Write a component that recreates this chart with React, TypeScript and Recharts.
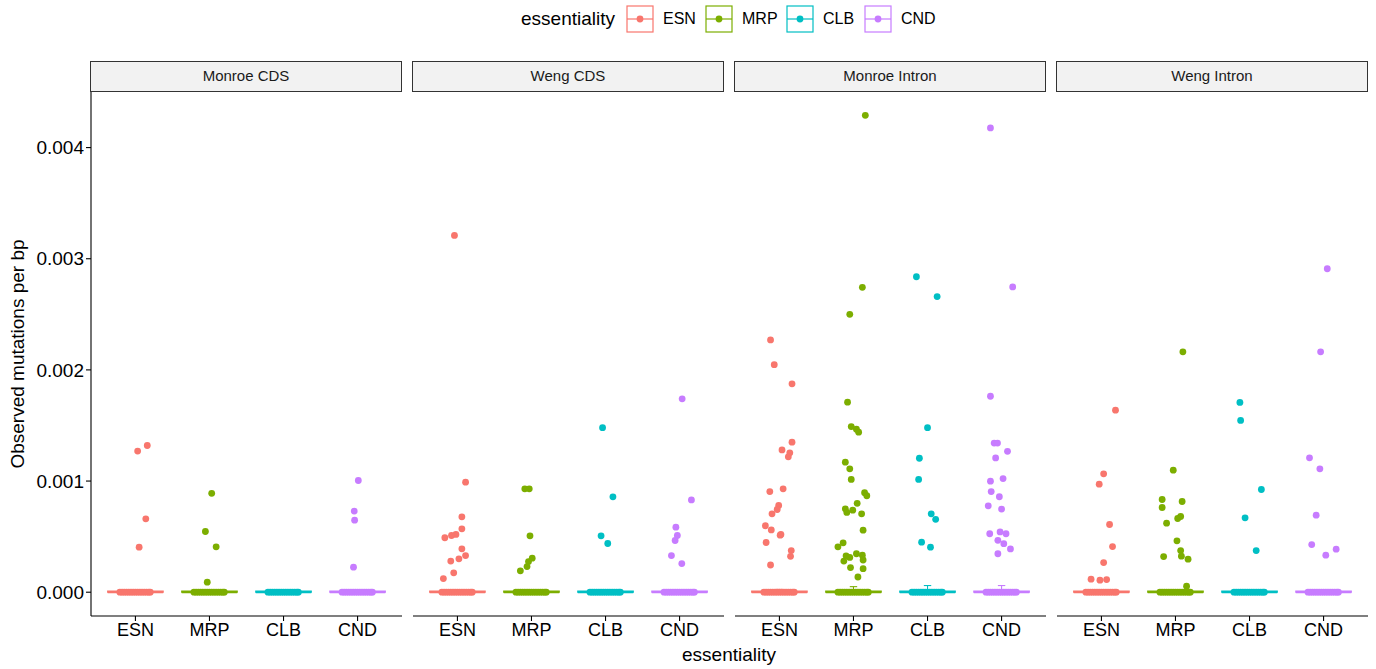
import React from 'react';
import { ComposedChart, Scatter, XAxis, YAxis, ReferenceArea, ReferenceLine } from 'recharts';

const CATEGORIES = ['ESN', 'MRP', 'CLB', 'CND'];
const COLORS = ['#F8766D', '#7CAE00', '#00BFC4', '#C77CFF'];
const PANELS = ['Monroe CDS', 'Weng CDS', 'Monroe Intron', 'Weng Intron'];
const Y_TICKS = [0, 0.001, 0.002, 0.003, 0.004];
const Y_DOMAIN = [-0.000214, 0.0045];

// jitter offsets of the many zero-valued points (band at 0)
const zeroJitter = [-0.21, -0.18, -0.15, -0.12, -0.09, -0.06, -0.03, 0.0, 0.03, 0.06, 0.09, 0.12, 0.15, 0.18, 0.2];

// [jitter, value] pairs — Monroe CDS
const monroeCdsEsn = [[0.03, 0.00127], [0.16, 0.00132], [0.14, 0.00066], [0.05, 0.000405]];
const monroeCdsMrp = [[0.03, 0.00089], [-0.055, 0.000546], [0.09, 0.000408], [-0.03, 0.00009]];
const monroeCdsClb: number[][] = [];
const monroeCdsCnd = [[0.01, 0.001005], [-0.045, 0.00073], [-0.04, 0.000648], [-0.055, 0.000225]];

// Weng CDS
const wengCdsEsn = [[-0.04, 0.00321], [0.11, 0.00099], [0.06, 0.000678], [0.06, 0.00057], [-0.02, 0.00052], [-0.08, 0.00051], [-0.17, 0.00049], [0.06, 0.00039], [0.11, 0.00033], [0.02, 0.0003], [-0.09, 0.00028], [-0.05, 0.000174], [-0.19, 0.000123]];
const wengCdsMrp = [[-0.09, 0.00093], [-0.03, 0.00093], [-0.02, 0.000507], [0.01, 0.000306], [-0.04, 0.000276], [-0.06, 0.000231], [-0.15, 0.000192]];
const wengCdsClb = [[-0.04, 0.00148], [0.1, 0.000858], [-0.06, 0.000507], [0.03, 0.000438]];
const wengCdsCnd = [[0.035, 0.00174], [0.16, 0.00083], [-0.05, 0.000585], [-0.03, 0.00051], [-0.06, 0.000465], [-0.11, 0.00033], [0.03, 0.000258]];

// Monroe Intron
const monroeIntronEsn = [[-0.12, 0.00227], [-0.07, 0.002047], [0.17, 0.001875], [0.17, 0.00135], [0.035, 0.00128], [0.14, 0.001254], [0.12, 0.001218], [-0.13, 0.000905], [0.05, 0.00093], [-0.01, 0.00078], [-0.03, 0.000744], [-0.1, 0.000705], [-0.19, 0.000598], [-0.11, 0.00056], [0.02, 0.00052], [0.01, 0.000513], [-0.18, 0.000447], [0.16, 0.000375], [0.15, 0.000323], [-0.12, 0.000245]];
const monroeIntronMrp = [[0.16, 0.00429], [0.12, 0.002743], [-0.05, 0.0025], [-0.08, 0.00171], [-0.03, 0.00149], [0.04, 0.001466], [0.07, 0.00144], [-0.11, 0.00117], [-0.05, 0.00111], [-0.03, 0.001015], [0.15, 0.000895], [0.18, 0.000868], [0.05, 0.0008], [-0.11, 0.00075], [-0.09, 0.000718], [-0.01, 0.000738], [0.11, 0.000705], [0.13, 0.000558], [-0.14, 0.000444], [-0.21, 0.000408], [-0.1, 0.000327], [0.04, 0.000346], [0.12, 0.000333], [-0.05, 0.000313], [-0.13, 0.00028], [0.13, 0.00029], [-0.04, 0.000222], [0.13, 0.000212], [0.06, 0.000137]];
const monroeIntronClb = [[-0.15, 0.002838], [0.13, 0.00266], [0.0, 0.00148], [-0.11, 0.001205], [-0.12, 0.001015], [0.05, 0.000705], [0.11, 0.000656], [-0.08, 0.00045], [0.04, 0.000405]];
const monroeIntronCnd = [[-0.15, 0.004177], [0.15, 0.002746], [-0.15, 0.001763], [-0.1, 0.001342], [-0.055, 0.001342], [0.08, 0.001267], [-0.08, 0.001208], [-0.15, 0.000999], [0.02, 0.001022], [-0.14, 0.000905], [-0.03, 0.000859], [-0.18, 0.000777], [0.0, 0.000748], [-0.16, 0.000526], [-0.02, 0.000542], [0.06, 0.000526], [-0.05, 0.000467], [0.03, 0.000437], [0.12, 0.000389], [-0.05, 0.000346]];

// Weng Intron
const wengIntronEsn = [[0.19, 0.001638], [0.03, 0.001065], [-0.03, 0.000972], [0.11, 0.000609], [0.15, 0.000411], [0.03, 0.000267], [-0.14, 0.000117], [-0.02, 0.000108], [0.07, 0.000114]];
const wengIntronMrp = [[0.1, 0.002163], [-0.03, 0.001098], [-0.18, 0.000834], [0.09, 0.000816], [-0.18, 0.000762], [0.07, 0.000681], [0.03, 0.000663], [-0.12, 0.000621], [0.02, 0.000462], [0.07, 0.000375], [-0.16, 0.000321], [0.08, 0.000324], [0.17, 0.000297], [0.15, 0.000054]];
const wengIntronClb = [[-0.13, 0.001707], [-0.12, 0.001545], [0.16, 0.000924], [-0.06, 0.000669], [0.09, 0.000375]];
const wengIntronCnd = [[0.05, 0.00291], [-0.04, 0.002163], [-0.19, 0.001209], [-0.05, 0.00111], [-0.1, 0.000693], [-0.16, 0.000429], [0.17, 0.000387], [0.03, 0.000333]];

// box stats per category: [lower hinge, median, upper hinge, upper whisker]
const monroeCdsBoxes = [[0, 0, 0.00001, 0.00001], [0, 0, 0.00001, 0.00001], [0, 0, 0.00001, 0.00001], [0, 0, 0.00001, 0.00001]];
const wengCdsBoxes = [[0, 0, 0.00001, 0.00001], [0, 0, 0.00001, 0.00001], [0, 0, 0.00001, 0.00001], [0, 0, 0.00001, 0.00001]];
const monroeIntronBoxes = [[0, 0, 0.00001, 0.000025], [0, 0, 0.00001, 0.00005], [0, 0, 0.00001, 0.00006], [0, 0, 0.00001, 0.00006]];
const wengIntronBoxes = [[0, 0, 0.00001, 0.00001], [0, 0, 0.00001, 0.00001], [0, 0, 0.00001, 0.00001], [0, 0, 0.00001, 0.00001]];

const PANEL_POINTS = [
  [monroeCdsEsn, monroeCdsMrp, monroeCdsClb, monroeCdsCnd],
  [wengCdsEsn, wengCdsMrp, wengCdsClb, wengCdsCnd],
  [monroeIntronEsn, monroeIntronMrp, monroeIntronClb, monroeIntronCnd],
  [wengIntronEsn, wengIntronMrp, wengIntronClb, wengIntronCnd],
];
const PANEL_BOXES = [monroeCdsBoxes, wengCdsBoxes, monroeIntronBoxes, wengIntronBoxes];

const FONT = '"Liberation Sans", Arial, Helvetica, sans-serif';
const PANEL_LEFT = [91, 413, 735, 1057];
const PANEL_W = 311;
const PLOT_TOP = 92;
const PLOT_BOTTOM = 616;
const H = 669;

function Dot(props: any) {
  const { cx, cy, fill } = props;
  if (cx == null || cy == null) return null;
  return <circle cx={cx} cy={cy} r={3.4} fill={fill} />;
}

function Panel({ idx }: { idx: number }) {
  const first = idx === 0;
  const yAxisW = 91;
  const left = first ? 0 : PANEL_LEFT[idx];
  const width = first ? PANEL_LEFT[0] + PANEL_W : PANEL_W;
  const xAxisH = 30;
  const series = CATEGORIES.map((cat, ci) => {
    const pts = PANEL_POINTS[idx][ci].map(([j, v]) => ({ x: ci + 1 + j, y: v }));
    const zeros = zeroJitter.map((j) => ({ x: ci + 1 + j, y: 0 }));
    return zeros.concat(pts);
  });
  const boxes = PANEL_BOXES[idx];
  return (
    <div style={{ position: 'absolute', left, top: 0 }}>
      <ComposedChart
        width={width}
        height={H}
        margin={{ top: PLOT_TOP, right: 0, left: 0, bottom: H - PLOT_BOTTOM - xAxisH }}
      >
        <XAxis
          type="number"
          dataKey="x"
          domain={[0.4, 4.6]}
          ticks={[1, 2, 3, 4]}
          interval={0}
          allowDataOverflow
          tickFormatter={(v: number) => CATEGORIES[v - 1]}
          height={xAxisH}
          tickSize={5}
          tickMargin={2}
          axisLine={{ stroke: '#000', strokeWidth: 1.1 }}
          tickLine={{ stroke: '#000', strokeWidth: 1.1 }}
          tick={{ fill: '#000', fontSize: 18, fontFamily: FONT }}
        />
        <YAxis
          type="number"
          dataKey="y"
          domain={Y_DOMAIN}
          ticks={Y_TICKS}
          allowDataOverflow
          hide={!first}
          width={yAxisW}
          tickFormatter={(v: number) => v.toFixed(3)}
          tickSize={5}
          tickMargin={2}
          axisLine={{ stroke: '#000', strokeWidth: 1.1 }}
          tickLine={{ stroke: '#000', strokeWidth: 1.1 }}
          tick={{ fill: '#000', fontSize: 19, fontFamily: FONT }}
        />
        {boxes.map(([lo, med, up, wh], ci) => (
          <ReferenceArea
            key={'box' + ci}
            x1={ci + 1 - 0.375}
            x2={ci + 1 + 0.375}
            y1={lo}
            y2={up}
            stroke={COLORS[ci]}
            strokeWidth={1.1}
            fill="none"
            fillOpacity={0}
            strokeOpacity={1}
            ifOverflow="visible"
          />
        ))}
        {boxes.map(([lo, med, up, wh], ci) => (
          <ReferenceLine
            key={'med' + ci}
            segment={[{ x: ci + 1 - 0.375, y: med }, { x: ci + 1 + 0.375, y: med }]}
            stroke={COLORS[ci]}
            strokeWidth={2.2}
            ifOverflow="visible"
          />
        ))}
        {boxes.map(([lo, med, up, wh], ci) =>
          wh > up ? (
            <ReferenceLine
              key={'wh' + ci}
              segment={[{ x: ci + 1, y: up }, { x: ci + 1, y: wh }]}
              stroke={COLORS[ci]}
              strokeWidth={1.1}
              ifOverflow="visible"
            />
          ) : null
        )}
        {boxes.map(([lo, med, up, wh], ci) =>
          wh > up ? (
            <ReferenceLine
              key={'cap' + ci}
              segment={[{ x: ci + 1 - 0.05, y: wh }, { x: ci + 1 + 0.05, y: wh }]}
              stroke={COLORS[ci]}
              strokeWidth={1.1}
              ifOverflow="visible"
            />
          ) : null
        )}
        {series.map((data, ci) => (
          <Scatter
            key={CATEGORIES[ci]}
            data={data}
            fill={COLORS[ci]}
            shape={<Dot />}
            isAnimationActive={false}
          />
        ))}
      </ComposedChart>
    </div>
  );
}

function LegendKey({ color }: { color: string }) {
  return (
    <svg width={28} height={28} style={{ display: 'block' }}>
      <rect x={1} y={1} width={26} height={26} fill="#fff" stroke={color} strokeWidth={1.2} />
      <line x1={1} y1={14} x2={27} y2={14} stroke={color} strokeWidth={1.2} />
      <circle cx={14} cy={14} r={3.4} fill={color} />
    </svg>
  );
}

export default function App() {
  const legendX = [626, 705, 786, 864];
  return (
    <div style={{ position: 'absolute', left: 0, top: 0, width: 1376, height: H, background: '#fff', fontFamily: FONT, overflow: 'hidden' }}>
      {/* legend */}
      <div style={{ position: 'absolute', left: 521, top: 5, height: 28, lineHeight: '28px', fontSize: 19, color: '#000' }}>essentiality</div>
      {CATEGORIES.map((c, i) => (
        <React.Fragment key={c}>
          <div style={{ position: 'absolute', left: legendX[i], top: 5 }}>
            <LegendKey color={COLORS[i]} />
          </div>
          <div style={{ position: 'absolute', left: legendX[i] + 37, top: 5, height: 28, lineHeight: '28px', fontSize: 16, color: '#000' }}>{c}</div>
        </React.Fragment>
      ))}
      {/* strips */}
      {PANELS.map((p, i) => (
        <div
          key={p}
          style={{
            position: 'absolute', left: PANEL_LEFT[i] - 1, top: 61, width: PANEL_W + 1, height: 31,
            boxSizing: 'border-box', border: '1.3px solid #333', background: '#F2F2F2',
            textAlign: 'center', lineHeight: '28px', fontSize: 15, color: '#1a1a1a',
          }}
        >
          {p}
        </div>
      ))}
      {PANELS.map((p, i) => (
        <Panel key={'panel' + i} idx={i} />
      ))}
      {/* axis titles */}
      <div style={{ position: 'absolute', left: 91, width: 1367 - 91, top: 643, textAlign: 'center', fontSize: 19, lineHeight: '24px', color: '#000' }}>essentiality</div>
      <div style={{ position: 'absolute', left: 18 - 300, top: 354 - 12, width: 600, height: 24, lineHeight: '24px', textAlign: 'center', fontSize: 19, color: '#000', transform: 'rotate(-90deg)' }}>Observed mutations per bp</div>
    </div>
  );
}
